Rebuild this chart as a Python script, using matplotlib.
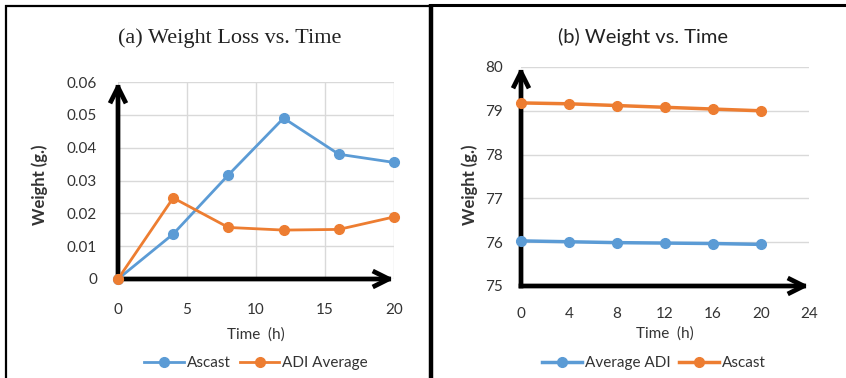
import numpy as np
import matplotlib
matplotlib.use("Agg")
import matplotlib.pyplot as plt
from matplotlib.lines import Line2D

# data
time_a = [0, 4, 8, 12, 16, 20]
ascast_loss = [0, 0.0137, 0.0317, 0.049, 0.038, 0.0355]
adi_loss = [0, 0.0247, 0.0157, 0.0149, 0.0151, 0.0189]

time_b = [0, 4, 8, 12, 16, 20]
adi_weight = [76.03, 76.01, 75.99, 75.98, 75.97, 75.95]
ascast_weight = [79.18, 79.16, 79.12, 79.08, 79.04, 79.00]

xticks_a = [0, 5, 10, 15, 20]
yticks_a = [0, 0.01, 0.02, 0.03, 0.04, 0.05, 0.06]
yticklabels_a = ['0', '0.01', '0.02', '0.03', '0.04', '0.05', '0.06']
xticks_b = [0, 4, 8, 12, 16, 20, 24]
yticks_b = [75, 76, 77, 78, 79, 80]

BLUE = '#5B9BD5'
ORANGE = '#ED7D31'
GRID = '#D9D9D9'
TXT = '#333333'
SANS = ['Lato', 'DejaVu Sans']

W, H = 846, 378
fig = plt.figure(figsize=(W / 100, H / 100), dpi=100)


def px_axes(x0, x1, y_top, y_bot):
    return fig.add_axes([x0 / W, 1 - y_bot / H, (x1 - x0) / W, (y_bot - y_top) / H])


def style_axes(ax):
    for s in ax.spines.values():
        s.set_visible(False)
    ax.tick_params(length=0, labelsize=11, labelcolor=TXT)
    for lab in ax.get_xticklabels() + ax.get_yticklabels():
        lab.set_family(SANS)


def arrows(ax, x0, x1, y0, y1):
    kw = dict(arrowstyle='->', lw=3.4, color='black', mutation_scale=25,
              shrinkA=0, shrinkB=0, capstyle='projecting')
    ax.annotate('', xy=(x1, y0), xytext=(x0, y0), arrowprops=kw, annotation_clip=False)
    ax.annotate('', xy=(x0, y1), xytext=(x0, y0), arrowprops=kw, annotation_clip=False)


# (a) weight loss
ax1 = px_axes(118, 394, 82, 279)
ax1.set_xlim(0, 20)
ax1.set_ylim(0, 0.06)
ax1.set_xticks(xticks_a)
ax1.set_yticks(yticks_a)
ax1.set_yticklabels(yticklabels_a)
ax1.grid(True, color=GRID, lw=1)
ax1.set_axisbelow(True)
ax1.plot(time_a, ascast_loss, color=BLUE, lw=2, marker='o', ms=7, clip_on=False, zorder=5, label='Ascast')
ax1.plot(time_a, adi_loss, color=ORANGE, lw=2, marker='o', ms=7, clip_on=False, zorder=5, label='ADI Average')
arrows(ax1, 0, 20, 0, 0.06)
style_axes(ax1)
ax1.tick_params(axis='x', pad=17)
ax1.tick_params(axis='y', pad=15)
ax1.set_xlabel('Time  (h)', family=SANS, fontsize=11, color=TXT, labelpad=8)

# (b) weight
ax2 = px_axes(521, 809, 67, 286)
ax2.set_xlim(0, 24)
ax2.set_ylim(75, 80)
ax2.set_xticks(xticks_b)
ax2.set_yticks(yticks_b)
ax2.grid(True, axis='y', color=GRID, lw=1)
ax2.set_axisbelow(True)
ax2.plot(time_b, adi_weight, color=BLUE, lw=2.5, marker='o', ms=7, clip_on=False, zorder=5, label='Average ADI')
ax2.plot(time_b, ascast_weight, color=ORANGE, lw=2.5, marker='o', ms=7, clip_on=False, zorder=5, label='Ascast')
arrows(ax2, 0, 24, 75, 80)
style_axes(ax2)
ax2.tick_params(axis='x', pad=15)
ax2.tick_params(axis='y', pad=13)
ax2.set_xlabel('Time  (h)', family=SANS, fontsize=11, color=TXT, labelpad=4)

# titles and y labels
fig.text(230 / W, 1 - 38 / H, '(a) Weight Loss vs. Time', family='Liberation Serif',
         fontsize=16, ha='center', va='center', color='#222222')
fig.text(643 / W, 1 - 37 / H, '(b) Weight vs. Time', family=SANS,
         fontsize=14.5, ha='center', va='center', color='#222222')
fig.text(40 / W, 1 - 185 / H, 'Weight (g.)', family=SANS, fontsize=12, fontweight='bold',
         rotation=90, ha='center', va='center', color=TXT)
fig.text(470 / W, 1 - 185 / H, 'Weight (g.)', family=SANS, fontsize=12, fontweight='bold',
         rotation=90, ha='center', va='center', color=TXT)

# legends
for ax, cx in ((ax1, 256), (ax2, 654)):
    fig.legend(*ax.get_legend_handles_labels(), loc='center', bbox_to_anchor=(cx / W, 1 - 363 / H),
               ncol=2, frameon=False, handlelength=2.6, handletextpad=0.2, columnspacing=0.6,
               prop={'family': SANS, 'size': 11}, labelcolor=TXT)

# panel frames
frame = dict(color='black', transform=fig.transFigure, solid_capstyle='butt')
fig.add_artist(Line2D([6 / W, 6 / W], [0, 1 - 5 / H], lw=1.6, **frame))
fig.add_artist(Line2D([5 / W, 431 / W], [1 - 6 / H, 1 - 6 / H], lw=1.6, **frame))
fig.add_artist(Line2D([431 / W, 431 / W], [0, 1 - 4 / H], lw=3.2, **frame))
fig.add_artist(Line2D([430 / W, 1], [1 - 5 / H, 1 - 5 / H], lw=2.2, **frame))

fig.savefig('out.png', dpi=100, facecolor='white')
